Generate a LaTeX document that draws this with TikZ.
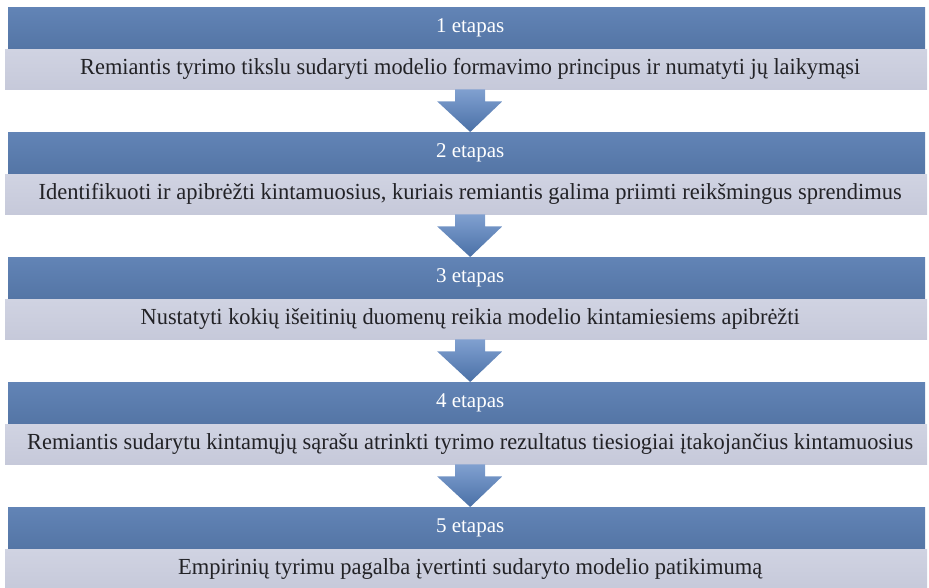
\documentclass[tikz,border=0pt]{standalone}
\usepackage{fontspec}
\setmainfont{Liberation Serif}
\definecolor{headtop}{RGB}{98,132,182}
\definecolor{headbot}{RGB}{84,117,165}
\definecolor{boxfill}{RGB}{198,201,218}
\definecolor{boxtop}{RGB}{208,211,226}
\definecolor{arrowtop}{RGB}{128,160,208}
\definecolor{arrowbot}{RGB}{74,112,166}
\definecolor{boxtext}{RGB}{34,34,38}
\tikzset{
  etaphead/.style={anchor=north west, inner sep=0pt, minimum width=917pt, minimum height=42pt,
    top color=headtop, bottom color=headbot, text=white, font=\fontsize{21}{21}\selectfont},
  etapbox/.style={anchor=north west, inner sep=0pt, minimum width=922pt, minimum height=40pt,
    top color=boxtop, bottom color=boxfill, text=boxtext, font=\fontsize{23}{23}\selectfont},
  etaparrow/.style={top color=arrowtop, bottom color=arrowbot},
}
\begin{document}
\begin{tikzpicture}[x=1pt,y=1pt,yscale=-1,xscale=1]
\useasboundingbox (0,0) rectangle (929,587);

%Shape: Header 1
\node [etaphead] (h1) at (8,7) {\hspace*{7pt}1 etapas};
%Shape: Box 1
\node [etapbox] (b1) at (5,49) {\hspace*{8pt}\resizebox{780pt}{\height}{Remiantis tyrimo tikslu sudaryti modelio formavimo principus ir numatyti jų laikymąsi}};

%Shape: Header 2
\node [etaphead] (h2) at (8,132) {\hspace*{7pt}2 etapas};
%Shape: Box 2
\node [etapbox] (b2) at (5,174) {\hspace*{8pt}\resizebox{863pt}{\height}{Identifikuoti ir apibrėžti kintamuosius, kuriais remiantis galima priimti reikšmingus sprendimus}};

%Shape: Header 3
\node [etaphead] (h3) at (8,257) {\hspace*{7pt}3 etapas};
%Shape: Box 3
\node [etapbox] (b3) at (5,299) {\hspace*{8pt}\resizebox{659pt}{\height}{Nustatyti kokių išeitinių duomenų reikia modelio kintamiesiems apibrėžti}};

%Shape: Header 4
\node [etaphead] (h4) at (8,382) {\hspace*{7pt}4 etapas};
%Shape: Box 4
\node [etapbox] (b4) at (5,424) {\hspace*{8pt}\resizebox{886pt}{\height}{Remiantis sudarytu kintamųjų sąrašu atrinkti tyrimo rezultatus tiesiogiai įtakojančius kintamuosius}};

%Shape: Header 5
\node [etaphead] (h5) at (8,507) {\hspace*{7pt}5 etapas};
%Shape: Box 5
\node [etapbox] (b5) at (5,549) {\hspace*{8pt}\resizebox{584pt}{\height}{Empirinių tyrimu pagalba įvertinti sudaryto modelio patikimumą}};

%Block Arrow [1 -> 2]
\shade [etaparrow] ([xshift=-11pt]b1.south) -- ([xshift=19pt]b1.south) -- ([xshift=19pt,yshift=12pt]b1.south) -- ([xshift=36pt,yshift=12pt]b1.south) -- ([xshift=3.5pt]h2.north) -- ([xshift=-29pt,yshift=12pt]b1.south) -- ([xshift=-11pt,yshift=12pt]b1.south) -- cycle ;
%Block Arrow [2 -> 3]
\shade [etaparrow] ([xshift=-11pt]b2.south) -- ([xshift=19pt]b2.south) -- ([xshift=19pt,yshift=12pt]b2.south) -- ([xshift=36pt,yshift=12pt]b2.south) -- ([xshift=3.5pt]h3.north) -- ([xshift=-29pt,yshift=12pt]b2.south) -- ([xshift=-11pt,yshift=12pt]b2.south) -- cycle ;
%Block Arrow [3 -> 4]
\shade [etaparrow] ([xshift=-11pt]b3.south) -- ([xshift=19pt]b3.south) -- ([xshift=19pt,yshift=12pt]b3.south) -- ([xshift=36pt,yshift=12pt]b3.south) -- ([xshift=3.5pt]h4.north) -- ([xshift=-29pt,yshift=12pt]b3.south) -- ([xshift=-11pt,yshift=12pt]b3.south) -- cycle ;
%Block Arrow [4 -> 5]
\shade [etaparrow] ([xshift=-11pt]b4.south) -- ([xshift=19pt]b4.south) -- ([xshift=19pt,yshift=12pt]b4.south) -- ([xshift=36pt,yshift=12pt]b4.south) -- ([xshift=3.5pt]h5.north) -- ([xshift=-29pt,yshift=12pt]b4.south) -- ([xshift=-11pt,yshift=12pt]b4.south) -- cycle ;

\end{tikzpicture}
\end{document}
